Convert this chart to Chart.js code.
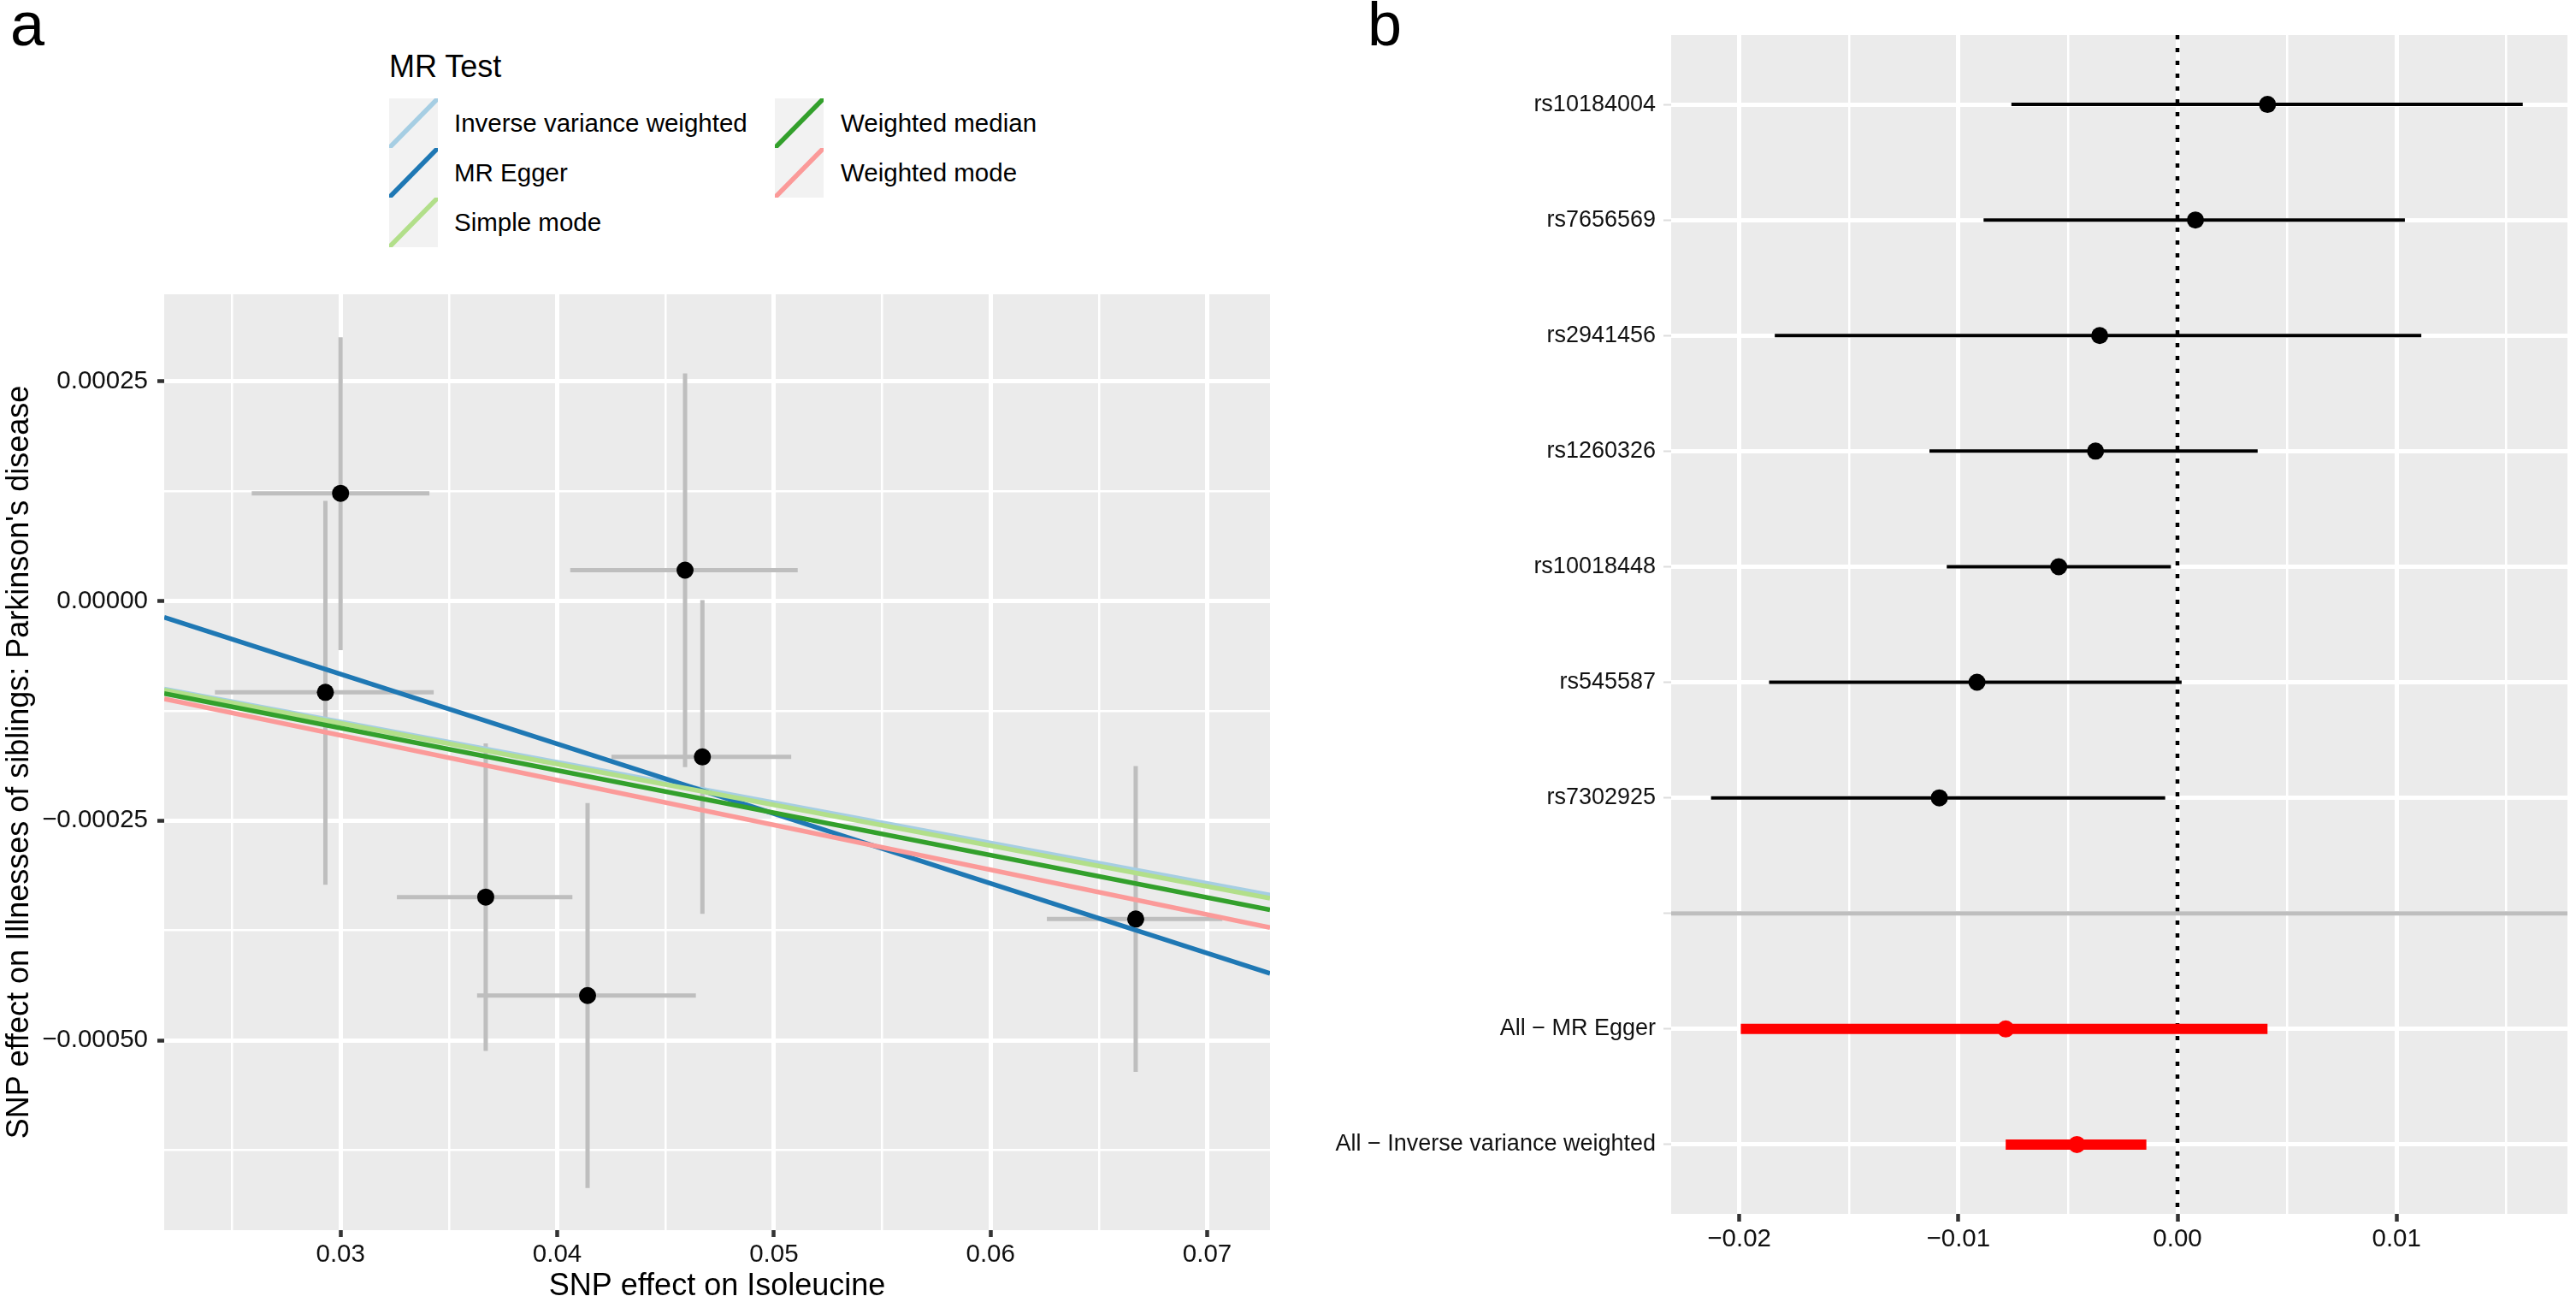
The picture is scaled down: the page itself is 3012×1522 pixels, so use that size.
<!DOCTYPE html>
<html>
<head>
<meta charset="utf-8">
<script src="https://cdn.jsdelivr.net/npm/chart.js@4.4.1/dist/chart.umd.min.js"></script>
<style>
  html, body { margin:0; padding:0; background:#fff; width:3012px; height:1522px; overflow:hidden;
    font-family:"Liberation Sans", Arial, Helvetica, sans-serif; }
  #cl { position:absolute; left:0; top:300px; }
  #cr { position:absolute; left:1500px; top:0; }
  .panel-tag { position:absolute; font-size:72px; line-height:72px; color:#000; }
  #legend { position:absolute; left:0; top:0; }
  .leg-title { position:absolute; font-size:36px; line-height:36px; color:#000; white-space:nowrap; }
  .leg-key { position:absolute; }
  .leg-text { position:absolute; font-size:29.5px; line-height:58px; color:#000; white-space:nowrap; }
</style>
</head>
<body>
<div class="panel-tag" style="left:12px; top:-8px;">a</div>
<div class="panel-tag" style="left:1599px; top:-8px;">b</div>
<div id="legend"></div>
<canvas id="cl" width="1500" height="1222"></canvas>
<canvas id="cr" width="1512" height="1522"></canvas>
<script>
// ---------------- Panel a data ----------------
const snpX   = [0.0300, 0.0293, 0.0459, 0.0467, 0.0367, 0.0414, 0.0667];
const snpY   = [0.0001225, -0.000104, 0.000035, -0.0001775, -0.000337, -0.000449, -0.000362];
const snpXLo = [0.0259, 0.0242, 0.0406, 0.0425, 0.0326, 0.0363, 0.0626];
const snpXHi = [0.0341, 0.0343, 0.0511, 0.0508, 0.0407, 0.0464, 0.0707];
const snpYLo = [-0.000056, -0.000323, -0.000189, -0.000356, -0.000512, -0.000668, -0.000536];
const snpYHi = [0.000300, 0.000114, 0.000259, 0.000001, -0.000162, -0.000230, -0.000188];

const methodNames      = ['Inverse variance weighted', 'MR Egger', 'Simple mode', 'Weighted median', 'Weighted mode'];
const methodSlopes     = [-0.00459, -0.00794, -0.00464, -0.00482, -0.00510];
const methodIntercepts = [0, 0.000155, 0, 0, 0];

const xRangeA      = [0.02186, 0.0729];
const yRangeA      = [-0.000716, 0.000349];
const xTicksA      = [0.03, 0.04, 0.05, 0.06, 0.07];
const xTickLabelsA = ['0.03', '0.04', '0.05', '0.06', '0.07'];
const xMinorA      = [0.025, 0.035, 0.045, 0.055, 0.065];
const yTicksA      = [0.00025, 0, -0.00025, -0.0005];
const yTickLabelsA = ['0.00025', '0.00000', '\u22120.00025', '\u22120.00050'];
const yMinorA      = [0.000125, -0.000125, -0.000375, -0.000625];
const xTitleA = 'SNP effect on Isoleucine';
const yTitleA = "SNP effect on Illnesses of siblings: Parkinson's disease";
const legendTitle = 'MR Test';

// ---------------- Panel b data ----------------
const forestLabels = ['rs10184004', 'rs7656569', 'rs2941456', 'rs1260326', 'rs10018448', 'rs545587', 'rs7302925', '',
                      'All \u2212 MR Egger', 'All \u2212 Inverse variance weighted'];
const forestB   = [0.00411, 0.00082, -0.00355, -0.00374, -0.00542, -0.00915, -0.01087, null, -0.00784, -0.00459];
const forestLo  = [-0.00758, -0.00885, -0.01838, -0.01132, -0.01053, -0.01864, -0.02129, null, -0.01993, -0.00784];
const forestHi  = [0.01576, 0.01038, 0.01113, 0.00366, -0.00030, 0.00019, -0.00056, null, 0.00411, -0.00142];
const forestTot = [0, 0, 0, 0, 0, 0, 0, null, 1, 1];

const xRangeB      = [-0.02311, 0.0178];
const xTicksB      = [-0.02, -0.01, 0, 0.01];
const xTickLabelsB = ['\u22120.02', '\u22120.01', '0.00', '0.01'];
const xMinorB      = [-0.015, -0.005, 0.005, 0.015];

// ---------------- Styles ----------------
const FONT = '"Liberation Sans", Arial, Helvetica, sans-serif';
const methodColors = ['#A6CEE3', '#1F78B4', '#B2DF8A', '#33A02C', '#FB9A99'];
const TEXT = '#111111';
Chart.defaults.font.family = FONT;
Chart.defaults.color = TEXT;

const panelBg = {
  id: 'panelBg',
  beforeDraw(chart) {
    const { ctx, chartArea: a } = chart;
    ctx.save();
    ctx.fillStyle = '#EBEBEB';
    ctx.fillRect(a.left, a.top, a.right - a.left, a.bottom - a.top);
    ctx.restore();
  }
};

function isIn(list, v) { return list.some(t => Math.abs(t - v) < 1e-12); }
function labelFor(vals, labels, v) {
  const i = vals.findIndex(t => Math.abs(t - v) < 1e-12);
  return i >= 0 ? labels[i] : '';
}

// ---------------- Legend (HTML) ----------------
(function buildLegend() {
  const leg = document.getElementById('legend');
  const t = document.createElement('div');
  t.className = 'leg-title';
  t.style.left = '455px'; t.style.top = '60px';
  t.textContent = legendTitle;
  leg.appendChild(t);
  methodNames.forEach((name, i) => {
    const col = Math.floor(i / 3), row = i % 3;
    const kx = col === 0 ? 455 : 906;
    const tx = col === 0 ? 531 : 983;
    const ky = 115 + row * 58;
    const key = document.createElement('div');
    key.className = 'leg-key';
    key.style.left = kx + 'px'; key.style.top = ky + 'px';
    key.innerHTML = '<svg width="57" height="58" xmlns="http://www.w3.org/2000/svg">' +
      '<rect x="0" y="0" width="57" height="58" fill="#F2F2F2"/>' +
      '<line x1="0" y1="58" x2="57" y2="0" stroke="' + methodColors[i] + '" stroke-width="5.5"/></svg>';
    leg.appendChild(key);
    const txt = document.createElement('div');
    txt.className = 'leg-text';
    txt.style.left = tx + 'px'; txt.style.top = ky + 'px';
    txt.textContent = name;
    leg.appendChild(txt);
  });
})();

// ---------------- Panel a chart ----------------
(function panelA() {
  const datasets = [];
  methodNames.forEach((name, i) => {
    datasets.push({
      type: 'line', label: name,
      data: xRangeA.map(x => ({ x: x, y: methodIntercepts[i] + methodSlopes[i] * x })),
      borderColor: methodColors[i], borderWidth: 5.5, pointRadius: 0, fill: false, tension: 0,
      order: methodNames.length - 1 - i
    });
  });
  datasets.push({
    type: 'scatter', label: 'SNPs',
    data: snpX.map((x, i) => ({ x: x, y: snpY[i] })),
    backgroundColor: '#000', borderColor: '#000', pointRadius: 10, borderWidth: 0, order: 10
  });
  const hb = [];
  snpX.forEach((x, i) => { hb.push({ x: snpXLo[i], y: snpY[i] }, { x: snpXHi[i], y: snpY[i] }, { x: x, y: null }); });
  datasets.push({ type: 'line', label: 'xerr', data: hb, borderColor: '#BEBEBE', borderWidth: 5,
    pointRadius: 0, spanGaps: false, fill: false, order: 11 });
  const vb = [];
  snpX.forEach((x, i) => { vb.push({ x: x, y: snpYLo[i] }, { x: x, y: snpYHi[i] }, { x: x, y: null }); });
  datasets.push({ type: 'line', label: 'yerr', data: vb, borderColor: '#BEBEBE', borderWidth: 5,
    pointRadius: 0, spanGaps: false, fill: false, order: 12 });

  const allX = xMinorA.concat(xTicksA).sort((a, b) => a - b);
  const allY = yMinorA.concat(yTicksA).sort((a, b) => a - b);

  new Chart(document.getElementById('cl'), {
    type: 'scatter',
    data: { datasets },
    options: {
      responsive: false, animation: false, maintainAspectRatio: false,
      layout: { padding: { left: 0, top: 44, right: 15, bottom: 0 } },
      plugins: { legend: { display: false }, tooltip: { enabled: false } },
      scales: {
        x: {
          type: 'linear', min: xRangeA[0], max: xRangeA[1],
          afterBuildTicks: s => { s.ticks = allX.map(v => ({ value: v })); },
          afterFit: s => { s.height = 84; },
          border: { display: false },
          grid: {
            color: '#FFFFFF',
            lineWidth: c => isIn(xTicksA, c.tick.value) ? 5 : 2.5,
            tickColor: c => isIn(xTicksA, c.tick.value) ? '#333333' : 'rgba(0,0,0,0)',
            tickWidth: 4.5, tickLength: 8, drawTicks: true
          },
          ticks: {
            autoSkip: false, maxRotation: 0, padding: 3, color: TEXT,
            font: { size: 29.5 },
            callback: v => labelFor(xTicksA, xTickLabelsA, v)
          },
          title: { display: true, text: xTitleA, color: '#000', font: { size: 36, lineHeight: 1 }, padding: { top: 0, bottom: 0 } }
        },
        y: {
          type: 'linear', min: yRangeA[0], max: yRangeA[1],
          afterBuildTicks: s => { s.ticks = allY.map(v => ({ value: v })); },
          afterFit: s => { s.width = 192; },
          border: { display: false },
          grid: {
            color: '#FFFFFF',
            lineWidth: c => isIn(yTicksA, c.tick.value) ? 5 : 2.5,
            tickColor: c => isIn(yTicksA, c.tick.value) ? '#333333' : 'rgba(0,0,0,0)',
            tickWidth: 4.5, tickLength: 8, drawTicks: true
          },
          ticks: {
            autoSkip: false, padding: 11, color: TEXT,
            font: { size: 29.5 },
            callback: v => labelFor(yTicksA, yTickLabelsA, v)
          },
          title: { display: true, text: yTitleA, color: '#000', font: { size: 36, lineHeight: 1 }, padding: { top: 5, bottom: 0 } }
        }
      }
    },
    plugins: [panelBg]
  });
})();

// ---------------- Panel b chart ----------------
(function panelB() {
  const rows = forestLabels.map((_, i) => i + 1);
  const sepRow = forestLabels.indexOf('') + 1;
  const datasets = [];
  datasets.push({ type: 'line', label: 'sep', data: xRangeB.map(x => ({ x: x, y: sepRow })),
    borderColor: '#BEBEBE', borderWidth: 5, pointRadius: 0, fill: false, order: 0 });
  const idx0 = [], idx1 = [];
  forestB.forEach((b, i) => { if (b === null) return; (forestTot[i] === 1 ? idx1 : idx0).push(i); });
  datasets.push({ type: 'scatter', label: 'pts', data: idx0.map(i => ({ x: forestB[i], y: rows[i] })),
    backgroundColor: '#000', borderWidth: 0, pointRadius: 10, order: 1 });
  datasets.push({ type: 'scatter', label: 'ptsTot', data: idx1.map(i => ({ x: forestB[i], y: rows[i] })),
    backgroundColor: '#FF0000', borderWidth: 0, pointRadius: 10, order: 2 });
  const seg = (ids) => { const d = []; ids.forEach(i => { d.push({ x: forestLo[i], y: rows[i] }, { x: forestHi[i], y: rows[i] }, { x: forestB[i], y: null }); }); return d; };
  datasets.push({ type: 'line', label: 'ciTot', data: seg(idx1), borderColor: '#FF0000', borderWidth: 12,
    pointRadius: 0, spanGaps: false, fill: false, order: 3 });
  datasets.push({ type: 'line', label: 'ci', data: seg(idx0), borderColor: '#000', borderWidth: 4,
    pointRadius: 0, spanGaps: false, fill: false, order: 4 });
  datasets.push({ type: 'line', label: 'zero', data: [{ x: 0, y: 0.4 }, { x: 0, y: 10.6 }],
    borderColor: '#000', borderWidth: 4.5, borderDash: [5, 10], pointRadius: 0, fill: false, order: 5 });

  const allX = xMinorB.concat(xTicksB).sort((a, b) => a - b);

  new Chart(document.getElementById('cr'), {
    type: 'scatter',
    data: { datasets },
    options: {
      responsive: false, animation: false, maintainAspectRatio: false,
      layout: { padding: { left: 0, top: 41, right: 10, bottom: 0 } },
      plugins: { legend: { display: false }, tooltip: { enabled: false } },
      scales: {
        x: {
          type: 'linear', min: xRangeB[0], max: xRangeB[1],
          afterBuildTicks: s => { s.ticks = allX.map(v => ({ value: v })); },
          afterFit: s => { s.height = 103; },
          border: { display: false },
          grid: {
            color: '#FFFFFF',
            lineWidth: c => isIn(xTicksB, c.tick.value) ? 5 : 2.5,
            tickColor: c => isIn(xTicksB, c.tick.value) ? '#333333' : 'rgba(0,0,0,0)',
            tickWidth: 4.5, tickLength: 9, drawTicks: true
          },
          ticks: {
            autoSkip: false, maxRotation: 0, padding: 3, color: TEXT,
            font: { size: 29.5 },
            callback: v => labelFor(xTicksB, xTickLabelsB, v)
          }
        },
        y: {
          type: 'linear', min: 0.4, max: 10.6, reverse: true,
          afterBuildTicks: s => { s.ticks = rows.map(v => ({ value: v })); },
          afterFit: s => { s.width = 454; },
          border: { display: false },
          grid: {
            color: '#FFFFFF', lineWidth: 5,
            tickColor: '#DDDDDD', tickWidth: 2, tickLength: 9, drawTicks: true
          },
          ticks: {
            autoSkip: false, padding: 9, color: TEXT,
            font: { size: 27 },
            callback: v => { const i = rows.indexOf(v); return i >= 0 ? forestLabels[i] : ''; }
          }
        }
      }
    },
    plugins: [panelBg]
  });
})();
</script>
</body>
</html>
